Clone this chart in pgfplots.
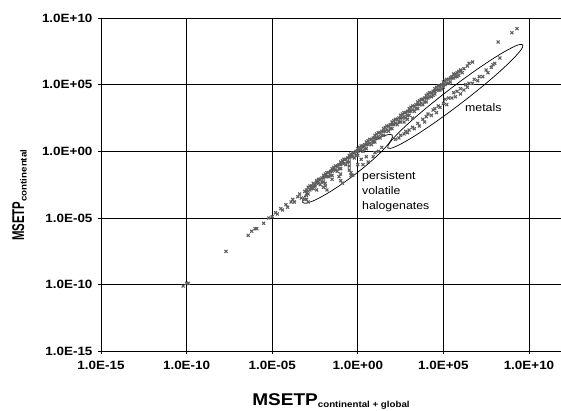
\documentclass[border=0pt]{standalone}
\usepackage{fontspec}
\setmainfont{Liberation Sans}[FakeStretch=1.12]
\usepackage{graphicx}
\usepackage{pgfplots}
\pgfplotsset{compat=1.18}

\definecolor{markgray}{RGB}{95,95,95}
\pgfplotsset{ptstyle/.style={only marks, mark=x, mark size=2.1pt, color=markgray, mark options={line width=1.1pt}}}

\begin{document}
\begin{tikzpicture}
\begin{axis}[
    name=ax,
    scale only axis,
    width=460pt, height=333.3pt,
    xmode=log, ymode=log,
    xmin=1e-15, xmax=7.4e11,
    ymin=1e-15, ymax=1e10,
    axis x line=bottom, axis y line=left,
    axis line style={-, line width=0.8pt, black},
    xtick={1e-15,1e-10,1e-5,1,1e5,1e10},
    ytick={1e-15,1e-10,1e-5,1,1e5,1e10},
    xticklabels={1.0E-15,1.0E-10,1.0E-05,1.0E+00,1.0E+05,1.0E+10},
    yticklabels={1.0E-15,1.0E-10,1.0E-05,1.0E+00,1.0E+05,1.0E+10},
    minor xtick={}, minor ytick={},
    grid=major,
    major grid style={black, line width=0.7pt},
    tick align=outside,
    major tick length=3pt,
    tick style={black, line width=0.7pt},
    ticklabel style={font=\bfseries\fontsize{12}{14}\selectfont},
    xticklabel style={yshift=-3pt},
    yticklabel style={xshift=-2pt},
    clip=false,
]

% main band
\addplot[ptstyle] coordinates {
(6.31e-11,7.94e-11) (1e-10,1.26e-10) (1.26e-10,1.26e-10) (2e-8,3.16e-8)
(3.98e-7,5.01e-7) (6.31e-7,1e-6) (1e-6,1.58e-6) (1.26e-6,1.58e-6)
(3.16e-6,3.98e-6) (6.31e-6,1e-5) (1e-5,1.26e-5) (1.58e-5,2.51e-5)
(2e-5,2e-5) (3.16e-5,5.01e-5) (3.98e-5,3.98e-5) (6.31e-5,1e-4)
(7.94e-5,6.31e-5) (1.26e-4,1.58e-4) (1.58e-4,2.51e-4) (2e-4,1.58e-4)
(3.16e-4,3.98e-4) (3.98e-4,6.31e-4) (5.01e-4,3.16e-4) (7.94e-4,1e-3)
(1e-3,1.26e-3) (1.26e-3,6.31e-4) (1.58e-3,2.51e-3) (2e-3,1.58e-3)
(2.51e-3,3.98e-3) (3.16e-3,2.51e-3) (3.98e-3,5.01e-3) (5.01e-3,7.94e-3)
(6.31e-3,3.16e-3) (7.94e-3,1e-2) (1e-2,1.58e-2) (1e-2,5.01e-3)
(1.26e-2,1.26e-2) (1.58e-2,2.51e-2) (2e-2,1.26e-2) (2.51e-2,3.16e-2)
(3.16e-2,5.01e-2) (3.16e-2,1.58e-2) (3.98e-2,3.98e-2) (5.01e-2,7.94e-2)
(6.31e-2,3.16e-2) (7.94e-2,0.1) (0.1,0.158) (0.1,5.01e-2)
(0.126,0.126) (0.158,0.251) (0.2,0.1) (0.251,0.316)
(0.316,0.501) (0.316,0.158) (0.398,0.398) (0.501,0.794)
(0.631,0.316) (0.794,1) (1,1.58) (1,0.501)
(1.26,1.26) (1.58,2.51) (2,1) (2.51,3.16)
(3.16,5.01) (3.16,1.58) (3.98,3.16) (5.01,7.94)
(6.31,3.16) (7.94,10) (10,15.8) (10,5.01)
(12.6,10) (15.8,25.1) (20,10) (25.1,31.6)
(31.6,50.1) (31.6,15.8) (39.8,31.6) (50.1,79.4)
(63.1,31.6) (79.4,100) (100,158) (100,50.1)
(126,100) (158,251) (200,100) (251,316)
(316,501) (316,158) (398,316) (501,794)
(631,316) (794,1000) (1e3,1.58e3) (1e3,501)
(1.26e3,1e3) (1.58e3,2.51e3) (2e3,1e3) (2.51e3,3.16e3)
(3.16e3,5.01e3) (3.16e3,1.58e3) (3.98e3,3.16e3) (5.01e3,7.94e3)
(6.31e3,3.16e3) (7.94e3,1e4) (1e4,1.58e4) (1e4,5.01e3)
(1.26e4,1e4) (1.58e4,2.51e4) (2e4,1.26e4) (2.51e4,3.16e4)
(3.16e4,5.01e4) (3.16e4,2e4) (3.98e4,3.98e4) (5.01e4,7.94e4)
(6.31e4,3.98e4) (7.94e4,1e5) (1e5,1.58e5) (1e5,6.31e4)
(1.26e5,1e5) (1.58e5,2.51e5) (2e5,1.26e5) (2.51e5,3.16e5)
(3.16e5,3.98e5) (3.98e5,3.16e5) (5.01e5,6.31e5) (6.31e5,3.98e5)
(7.94e5,1e6) (1e6,1.26e6) (1.26e6,7.94e5) (1.58e6,1.58e6)
(2.51e6,2.51e6) (3.16e6,3.98e6)
(5.01e6,5.01e6) (1.58e8,1.58e8) (1e9,7.94e8) (2e9,1.58e9)
(501,158) (794,251) (1.58e3,316)
(1e-3,1e-3) (1.26e-3,2e-3) (1.58e-3,1.26e-3) (2e-3,2.51e-3) (2.51e-3,1.58e-3)
(3.16e-3,3.16e-3) (3.98e-3,6.31e-3) (5.01e-3,3.98e-3) (6.31e-3,7.94e-3) (7.94e-3,5.01e-3)
(1e-2,1e-2) (1.26e-2,2e-2) (1.58e-2,1.26e-2) (2e-2,2.51e-2) (2.51e-2,1.58e-2)
(3.16e-2,3.16e-2) (3.98e-2,6.31e-2) (5.01e-2,3.98e-2) (6.31e-2,7.94e-2) (7.94e-2,5.01e-2)
(0.1,0.1) (0.126,0.2) (0.158,0.126) (0.2,0.251) (0.251,0.158)
(0.316,0.316) (0.398,0.631) (0.501,0.398) (0.631,0.794) (0.794,0.501)
(1,1) (1.26,2) (1.58,1.26) (2,2.51) (2.51,1.58)
(3.16,3.16) (3.98,6.31) (5.01,3.98) (6.31,7.94) (7.94,5.01)
(10,10) (12.6,20) (15.8,12.6) (20,25.1) (25.1,15.8)
(31.6,31.6) (39.8,63.1) (50.1,39.8) (63.1,79.4) (79.4,50.1)
(100,100) (126,200) (158,126) (200,251) (251,158)
(316,316) (398,631) (501,398) (631,794) (794,501)
(1e3,1e3) (1.26e3,2e3) (1.58e3,1.26e3) (2e3,2.51e3) (2.51e3,1.58e3)
(3.16e3,3.16e3) (3.98e3,6.31e3) (5.01e3,3.98e3) (6.31e3,7.94e3) (7.94e3,5.01e3)
(1e4,1e4) (1.26e4,2e4) (1.58e4,1.26e4) (2e4,2.51e4) (2.51e4,1.58e4)
(3.16e4,3.16e4) (3.98e4,6.31e4) (5.01e4,3.98e4) (6.31e4,7.94e4) (7.94e4,5.01e4)
(1e5,1e5) (1.26e5,2e5) (1.58e5,1.26e5) (2e5,2.51e5) (2.51e5,1.58e5)
(3.16e5,3.16e5) (3.98e5,6.31e5) (5.01e5,3.98e5) (6.31e5,7.94e5) (7.94e5,5.01e5)
(1e6,1e6)
};

% persistent volatile halogenates
\addplot[ptstyle] coordinates {
(7.94e-4,2.51e-4) (1e-3,2.51e-4) (1.26e-3,1.58e-4) (1e-3,5.01e-4)
(3.98e-3,1.26e-3) (1e-2,2e-3) (1.26e-2,2.51e-3) (1.58e-2,1.26e-3)
(1.26e-2,3.98e-3) (3.16e-2,7.94e-3) (7.94e-2,1.26e-2) (0.1,6.31e-3)
(0.126,3.98e-3) (0.1,2e-2) (0.316,3.98e-2) (0.398,1.58e-2)
(0.398,2.51e-2) (0.501,1.58e-2) (0.316,7.94e-2) (1,0.1)
(1.58,0.251) (2,0.1) (3.16,0.398) (3.98,0.158)
(7.94,0.398) (10,0.794) (15.8,1) (25.1,2)
};

% metals
\addplot[ptstyle] coordinates {
(158,7.94) (251,10) (316,15.8) (501,20) (631,31.6) (794,25.1)
(1000,39.8) (1580,63.1) (2000,50.1) (3160,126) (3980,79.4) (6310,251)
(7940,158) (1e4,398) (1.26e4,631) (2e4,501) (2.51e4,1260) (3.16e4,1580)
(3.98e4,794) (5.01e4,2510) (6.31e4,2000) (1e5,3980) (1.26e5,7940) (1.58e5,3160)
(2e5,1e4) (3.16e5,1e4) (3.98e5,2.51e4) (5.01e5,1.26e4) (6.31e5,3.16e4) (1e6,2e4)
(1e6,5.01e4) (1.58e6,3.98e4) (2e6,1e5) (2.51e6,6.31e4) (3.16e6,1.26e5) (5.01e6,1.26e5)
(6.31e6,2.51e5) (1e7,2e5) (1.26e7,3.98e5) (2e7,3.98e5) (3.16e7,1.26e6) (3.98e7,7.94e5)
(6.31e7,2e6) (7.94e7,3.16e6) (1e8,3.98e6) (2e8,1e7)
};

% ellipses
\draw[black, line width=0.7pt, rotate around={37.4:(axis cs:4.95e5,1.32e4)}]
  (axis cs:4.95e5,1.32e4) ellipse [x radius=85pt, y radius=9pt];
\draw[black, line width=0.7pt, rotate around={37:(axis cs:0.251,0.049)}]
  (axis cs:0.251,0.049) ellipse [x radius=56pt, y radius=9pt];

% annotations
\node[anchor=base west, inner sep=0pt, font=\fontsize{11}{13}\selectfont]
  at (axis cs:1.82e6,1e3) {metals};
\node[anchor=north west, inner sep=0pt, align=left, font=\fontsize{11}{15}\selectfont]
  at (axis cs:1.76,0.0295) {persistent\\volatile\\halogenates};

% axis titles
\node[anchor=base, inner sep=0pt, font=\bfseries\fontsize{17}{20}\selectfont]
  at (rel axis cs:0.5,-0.162)
  {MSETP\raisebox{-2.5pt}{\fontsize{8.7}{10}\selectfont continental + global}};
\node[anchor=base, rotate=90, inner sep=0pt, font=\bfseries\fontsize{17}{20}\selectfont]
  at (rel axis cs:-0.167,0.468)
  {\scalebox{0.6}[1]{MSETP}\raisebox{-2.5pt}{\fontsize{8.7}{10}\selectfont continental}};
\end{axis}
\pgfresetboundingbox
\path[use as bounding box] ([shift={(-101pt,-59pt)}]ax.south west) rectangle ([shift={(0pt,18pt)}]ax.north east);
\end{tikzpicture}
\end{document}
